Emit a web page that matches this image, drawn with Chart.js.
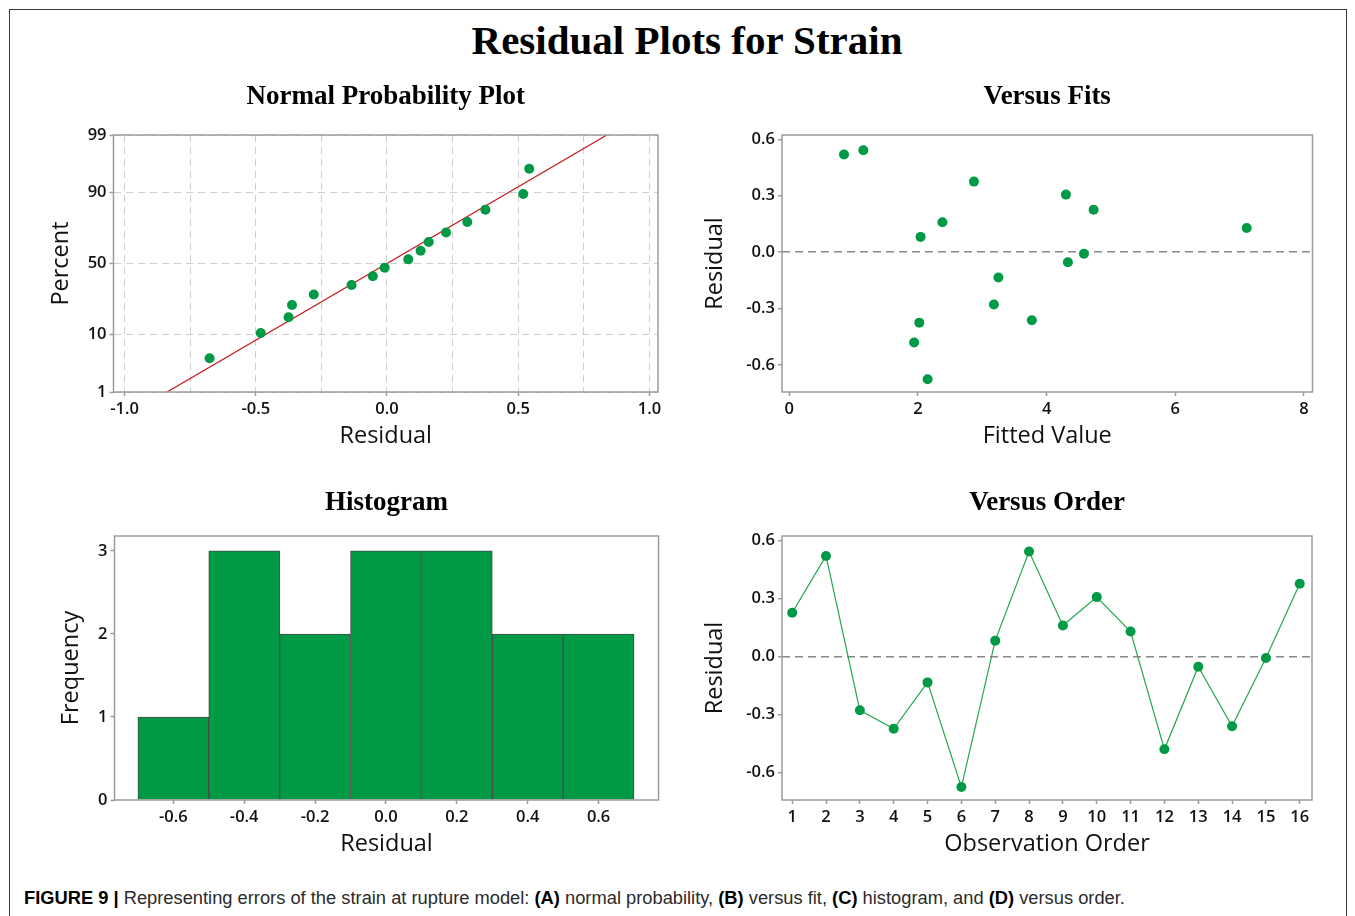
<!DOCTYPE html>
<html>
<head>
<meta charset="utf-8">
<title>Residual Plots for Strain</title>
<script src="https://cdn.jsdelivr.net/npm/chart.js@4.4.1/dist/chart.umd.min.js"></script>
<style>
  html, body { margin: 0; padding: 0; background: #fff; }
  #page { position: relative; width: 1355px; height: 916px; overflow: hidden; background: #fff; }
  #frame { position: absolute; left: 9px; top: 9px; width: 1338px; height: 960px;
           border: 1px solid #3a3a3a; box-sizing: border-box; }
  #mainTitle { position: absolute; left: 19px; width: 1336px; top: 20px; text-align: center;
               font: bold 41px 'Liberation Serif', 'Times New Roman', serif; line-height: 40px; color: #000; }
  .panel { position: absolute; }
  .panel canvas { display: block; }
  #caption { position: absolute; left: 24px; top: 888px; white-space: nowrap; line-height: 20px;
             font: 17.5px 'Liberation Sans', Arial, sans-serif; color: #2b2b2b; transform-origin: 0 50%; }
  #caption b { color: #000; }
</style>
</head>
<body>
<div id="page">
  <div id="frame"></div>
  <div id="mainTitle">Residual Plots for Strain</div>
  <div id="caption"><b>FIGURE 9 |</b> Representing errors of the strain at rupture model: <b>(A)</b> normal probability, <b>(B)</b> versus fit, <b>(C)</b> histogram, and <b>(D)</b> versus order.</div>
</div>
<script>
// ---- data ----------------------------------------------------------------
const observationOrder = [1, 2, 3, 4, 5, 6, 7, 8, 9, 10, 11, 12, 13, 14, 15, 16];
const residuals = [0.225, 0.519, -0.279, -0.375, -0.135, -0.676, 0.081, 0.542,
                   0.159, 0.306, 0.128, -0.481, -0.054, -0.362, -0.009, 0.375];
const fittedValues = [4.73, 0.85, 3.18, 2.02, 3.25, 2.15, 2.04, 1.15,
                      2.38, 4.30, 7.11, 1.94, 4.33, 3.77, 4.58, 2.87];

// plotting positions (percent) of the ordered residuals
const normalPercents = [4.3, 10.4, 16.5, 22.6, 28.7, 34.8, 40.9, 47.0,
                        53.0, 59.1, 65.2, 71.3, 77.4, 83.5, 89.6, 95.7];
// fitted normal line, end points
const fitLineResidual = [-0.838, 0.838];
const fitLinePercent = [1, 99];

// histogram
const binCenters = [-0.6, -0.4, -0.2, 0.0, 0.2, 0.4, 0.6];
const binCounts = [1, 3, 2, 3, 3, 2, 2];

// tick labels
const percentTicks = [1, 10, 50, 90, 99];
const normalResidualTicks = [-1.0, -0.75, -0.5, -0.25, 0, 0.25, 0.5, 0.75, 1.0];
const residualTicks = [-0.6, -0.3, 0.0, 0.3, 0.6];
const fittedTicks = [0, 2, 4, 6, 8];
const histResidualTicks = [-0.6, -0.4, -0.2, 0.0, 0.2, 0.4, 0.6];
const frequencyTicks = [0, 1, 2, 3];

// ---- styling ---------------------------------------------------------------
const SANS = "'Open Sans', 'Noto Sans', 'DejaVu Sans', sans-serif";
const SERIF = "'Liberation Serif', 'Times New Roman', serif";
const GREEN = '#009a46';
const LINE_GREEN = '#22a84c';
const RED = '#c41f24';
const FRAME = '#9c9c9c';
const TEXT = '#111111';
const TICK_FONT = { family: SANS, size: 16.5, weight: 600 };
const AXIS_TITLE_FONT = { family: SANS, size: 23.5, weight: 500, lineHeight: 1.2 };
const PANEL_TITLE_FONT = { family: SERIF, size: 27, weight: 'bold', lineHeight: 1.2 };

// ---- normal probability axis ------------------------------------------------
function probit(p) {
  // inverse standard normal CDF (Acklam)
  const a = [-3.969683028665376e+01, 2.209460984245205e+02, -2.759285104469687e+02,
             1.383577518672690e+02, -3.066479806614716e+01, 2.506628277459239e+00];
  const b = [-5.447609879822406e+01, 1.615858368580409e+02, -1.556989798598866e+02,
             6.680131188771972e+01, -1.328068155288572e+01];
  const c = [-7.784894002430293e-03, -3.223964580411365e-01, -2.400758277161838e+00,
             -2.549732539343734e+00, 4.374664141464968e+00, 2.938163982698783e+00];
  const d = [7.784695709041462e-03, 3.224671290700398e-01, 2.445134137142996e+00,
             3.754408661907416e+00];
  const pl = 0.02425;
  if (p < pl) {
    const q = Math.sqrt(-2 * Math.log(p));
    return (((((c[0]*q+c[1])*q+c[2])*q+c[3])*q+c[4])*q+c[5]) / ((((d[0]*q+d[1])*q+d[2])*q+d[3])*q+1);
  }
  if (p > 1 - pl) {
    const q = Math.sqrt(-2 * Math.log(1 - p));
    return -(((((c[0]*q+c[1])*q+c[2])*q+c[3])*q+c[4])*q+c[5]) / ((((d[0]*q+d[1])*q+d[2])*q+d[3])*q+1);
  }
  const q = p - 0.5, r = q * q;
  return (((((a[0]*r+a[1])*r+a[2])*r+a[3])*r+a[4])*r+a[5])*q / (((((b[0]*r+b[1])*r+b[2])*r+b[3])*r+b[4])*r+1);
}
function normalCdf(z) {
  const t = 1 / (1 + 0.2316419 * Math.abs(z));
  const poly = t * (0.319381530 + t * (-0.356563782 + t * (1.781477937 + t * (-1.821255978 + t * 1.330274429))));
  const tail = Math.exp(-z * z / 2) / Math.sqrt(2 * Math.PI) * poly;
  return z >= 0 ? 1 - tail : tail;
}

class ProbabilityScale extends Chart.LinearScale {
  configure() {
    super.configure();
    this._zStart = probit(this.min / 100);
    this._zRange = probit(this.max / 100) - this._zStart;
  }
  getPixelForValue(value) {
    if (value === null || value === undefined) return NaN;
    return this.getPixelForDecimal((probit(value / 100) - this._zStart) / this._zRange);
  }
  getValueForPixel(pixel) {
    return 100 * normalCdf(this._zStart + this.getDecimalForPixel(pixel) * this._zRange);
  }
}
ProbabilityScale.id = 'probability';
ProbabilityScale.defaults = Chart.LinearScale.defaults;
Chart.register(ProbabilityScale);

// outline around each plotting region
const plotFrame = {
  id: 'plotFrame',
  afterDatasetsDraw(chart) {
    const { ctx, chartArea: { left, top, right, bottom } } = chart;
    ctx.save();
    ctx.strokeStyle = FRAME;
    ctx.lineWidth = 1.5;
    ctx.strokeRect(left, top, right - left, bottom - top);
    ctx.restore();
  }
};

function fixedTicks(values) {
  return scale => { scale.ticks = values.map(v => ({ value: v })); };
}

function axis(opts) {
  return Object.assign({
    type: 'linear',
    offset: false,
    border: { display: false },
    grid: { display: true, drawOnChartArea: false, drawTicks: true, tickLength: 4,
            tickColor: FRAME, tickWidth: 1.5, offset: false },
    ticks: { font: TICK_FONT, color: TEXT, padding: 3, autoSkip: false, maxRotation: 0 },
    title: { display: true, font: AXIS_TITLE_FONT, color: TEXT }
  }, opts);
}

// positions a chart so that its plotting region lands on `frame`
function makePanel(frame, pos, config) {
  const cL = Math.floor(frame.left - 100);
  const cT = Math.floor(pos.titleY - 40);
  const cR = Math.ceil(frame.right + 24);
  const cB = Math.ceil(pos.xTitleY + 22);
  const holder = document.createElement('div');
  holder.className = 'panel';
  holder.style.left = cL + 'px';
  holder.style.top = cT + 'px';
  const canvas = document.createElement('canvas');
  canvas.width = cR - cL;
  canvas.height = cB - cT;
  canvas.style.width = (cR - cL) + 'px';
  canvas.style.height = (cB - cT) + 'px';
  holder.appendChild(canvas);
  document.getElementById('page').appendChild(holder);

  const titleLH = PANEL_TITLE_FONT.size * PANEL_TITLE_FONT.lineHeight;
  const axisLH = AXIS_TITLE_FONT.size * AXIS_TITLE_FONT.lineHeight;
  const o = config.options;
  o.responsive = false;
  o.animation = false;
  o.devicePixelRatio = 1;
  o.events = [];
  o.layout = { padding: { left: 0, top: 0, bottom: 0, right: cR - frame.right } };
  o.plugins = {
    legend: { display: false },
    tooltip: { enabled: false },
    title: {
      display: true, text: pos.title, font: PANEL_TITLE_FONT, color: '#000', fullSize: false,
      padding: { top: pos.titleY - cT - titleLH / 2, bottom: frame.top - pos.titleY - titleLH / 2 }
    }
  };
  const xAxisHeight = cB - frame.bottom;
  const yAxisWidth = frame.left - cL;
  o.scales.x.afterFit = s => { s.height = xAxisHeight; };
  o.scales.x.title.padding = { top: 0, bottom: cB - pos.xTitleY - axisLH / 2 };
  o.scales.y.afterFit = s => { s.width = yAxisWidth; };
  o.scales.y.title.padding = { top: pos.yTitleX - cL - axisLH / 2, bottom: 0 };
  config.plugins = [plotFrame];
  return new Chart(canvas, config);
}

const oneDecimal = v => Number(v).toFixed(1);
const zeroLine = ctx => (ctx.tick && Math.abs(ctx.tick.value) < 1e-9) ? '#888888' : 'rgba(0,0,0,0)';
const MARKER = 5;

// ---- (A) normal probability plot -----------------------------------------
const orderedResiduals = residuals.slice().sort((a, b) => a - b);
makePanel(
  { left: 113.5, right: 658, top: 135, bottom: 392 },
  { title: 'Normal Probability Plot', titleY: 97, yTitleX: 61, xTitleY: 436.5 },
  {
    type: 'scatter',
    data: {
      datasets: [
        { data: orderedResiduals.map((r, i) => ({ x: r, y: normalPercents[i] })),
          pointRadius: MARKER, pointBackgroundColor: GREEN, pointBorderWidth: 0, showLine: false },
        { type: 'line', data: fitLineResidual.map((r, i) => ({ x: r, y: fitLinePercent[i] })),
          borderColor: RED, borderWidth: 1.3, pointRadius: 0, fill: false, tension: 0 }
      ]
    },
    options: {
      scales: {
        x: axis({
          min: -1.042, max: 1.0325,
          afterBuildTicks: fixedTicks(normalResidualTicks),
          grid: { display: true, drawOnChartArea: true, drawTicks: true, tickLength: 4, offset: false,
                  color: '#cfcfcf', lineWidth: 1,
                  tickColor: ctx => (ctx.tick && Math.abs(ctx.tick.value * 2 - Math.round(ctx.tick.value * 2)) < 1e-9) ? FRAME : 'rgba(0,0,0,0)',
                  tickWidth: 1.5 },
          border: { display: false, dash: [7, 5] },
          ticks: { font: TICK_FONT, color: TEXT, padding: 3, autoSkip: false, maxRotation: 0,
                   callback: v => Math.abs(v * 2 - Math.round(v * 2)) < 1e-9 ? oneDecimal(v) : '' },
          title: { display: true, text: 'Residual', font: AXIS_TITLE_FONT, color: TEXT }
        }),
        y: axis({
          type: 'probability', min: 1, max: 99,
          afterBuildTicks: fixedTicks(percentTicks),
          grid: { display: true, drawOnChartArea: true, drawTicks: true, tickLength: 4, offset: false,
                  color: '#cfcfcf', lineWidth: 1, tickColor: FRAME, tickWidth: 1.5 },
          border: { display: false, dash: [7, 5] },
          ticks: { font: TICK_FONT, color: TEXT, padding: 3, autoSkip: false, callback: v => String(v) },
          title: { display: true, text: 'Percent', font: AXIS_TITLE_FONT, color: TEXT }
        })
      }
    }
  }
);

// ---- (B) residuals versus fitted values -----------------------------------
makePanel(
  { left: 782, right: 1312.5, top: 135, bottom: 392 },
  { title: 'Versus Fits', titleY: 97, yTitleX: 715, xTitleY: 436.5 },
  {
    type: 'scatter',
    data: {
      datasets: [
        { data: fittedValues.map((f, i) => ({ x: f, y: residuals[i] })),
          pointRadius: MARKER, pointBackgroundColor: GREEN, pointBorderWidth: 0 }
      ]
    },
    options: {
      scales: {
        x: axis({
          min: -0.114, max: 8.133,
          afterBuildTicks: fixedTicks(fittedTicks),
          ticks: { font: TICK_FONT, color: TEXT, padding: 3, autoSkip: false, maxRotation: 0, callback: v => String(v) },
          title: { display: true, text: 'Fitted Value', font: AXIS_TITLE_FONT, color: TEXT }
        }),
        y: axis({
          min: -0.744, max: 0.623,
          afterBuildTicks: fixedTicks(residualTicks),
          grid: { display: true, drawOnChartArea: true, drawTicks: true, tickLength: 4, offset: false,
                  color: zeroLine, lineWidth: 1.5, tickColor: FRAME, tickWidth: 1.5 },
          border: { display: false, dash: [8, 5] },
          ticks: { font: TICK_FONT, color: TEXT, padding: 3, autoSkip: false, callback: oneDecimal },
          title: { display: true, text: 'Residual', font: AXIS_TITLE_FONT, color: TEXT }
        })
      }
    }
  }
);

// ---- (C) histogram of residuals -------------------------------------------
makePanel(
  { left: 114.5, right: 658.5, top: 536, bottom: 800 },
  { title: 'Histogram', titleY: 503, yTitleX: 71, xTitleY: 844 },
  {
    type: 'bar',
    data: {
      datasets: [
        { data: binCenters.map((c, i) => ({ x: c, y: binCounts[i] })),
          backgroundColor: GREEN, borderColor: '#4a4a4a', borderWidth: 1,
          barPercentage: 1, categoryPercentage: 1 }
      ]
    },
    options: {
      scales: {
        x: axis({
          min: -0.766, max: 0.769,
          afterBuildTicks: fixedTicks(histResidualTicks),
          ticks: { font: TICK_FONT, color: TEXT, padding: 3, autoSkip: false, maxRotation: 0, callback: oneDecimal },
          title: { display: true, text: 'Residual', font: AXIS_TITLE_FONT, color: TEXT }
        }),
        y: axis({
          min: 0, max: 3.18,
          afterBuildTicks: fixedTicks(frequencyTicks),
          ticks: { font: TICK_FONT, color: TEXT, padding: 3, autoSkip: false, callback: v => String(v) },
          title: { display: true, text: 'Frequency', font: AXIS_TITLE_FONT, color: TEXT }
        })
      }
    }
  }
);

// ---- (D) residuals versus observation order --------------------------------
makePanel(
  { left: 782, right: 1312, top: 536, bottom: 800 },
  { title: 'Versus Order', titleY: 503, yTitleX: 715, xTitleY: 844 },
  {
    type: 'line',
    data: {
      datasets: [
        { data: observationOrder.map((n, i) => ({ x: n, y: residuals[i] })),
          borderColor: LINE_GREEN, borderWidth: 1.2, tension: 0, fill: false,
          pointRadius: MARKER, pointBackgroundColor: GREEN, pointBorderWidth: 0 }
      ]
    },
    options: {
      scales: {
        x: axis({
          min: 0.699, max: 16.362,
          afterBuildTicks: fixedTicks(observationOrder),
          ticks: { font: TICK_FONT, color: TEXT, padding: 3, autoSkip: false, maxRotation: 0, callback: v => String(v) },
          title: { display: true, text: 'Observation Order', font: AXIS_TITLE_FONT, color: TEXT }
        }),
        y: axis({
          min: -0.743, max: 0.622,
          afterBuildTicks: fixedTicks(residualTicks),
          grid: { display: true, drawOnChartArea: true, drawTicks: true, tickLength: 4, offset: false,
                  color: zeroLine, lineWidth: 1.5, tickColor: FRAME, tickWidth: 1.5 },
          border: { display: false, dash: [8, 5] },
          ticks: { font: TICK_FONT, color: TEXT, padding: 3, autoSkip: false, callback: oneDecimal },
          title: { display: true, text: 'Residual', font: AXIS_TITLE_FONT, color: TEXT }
        })
      }
    }
  }
);

// caption runs the width of the figure
const caption = document.getElementById('caption');
const capWidth = caption.getBoundingClientRect().width;
caption.style.transform = 'scaleX(' + (1101 / capWidth).toFixed(4) + ')';
</script>
</body>
</html>
